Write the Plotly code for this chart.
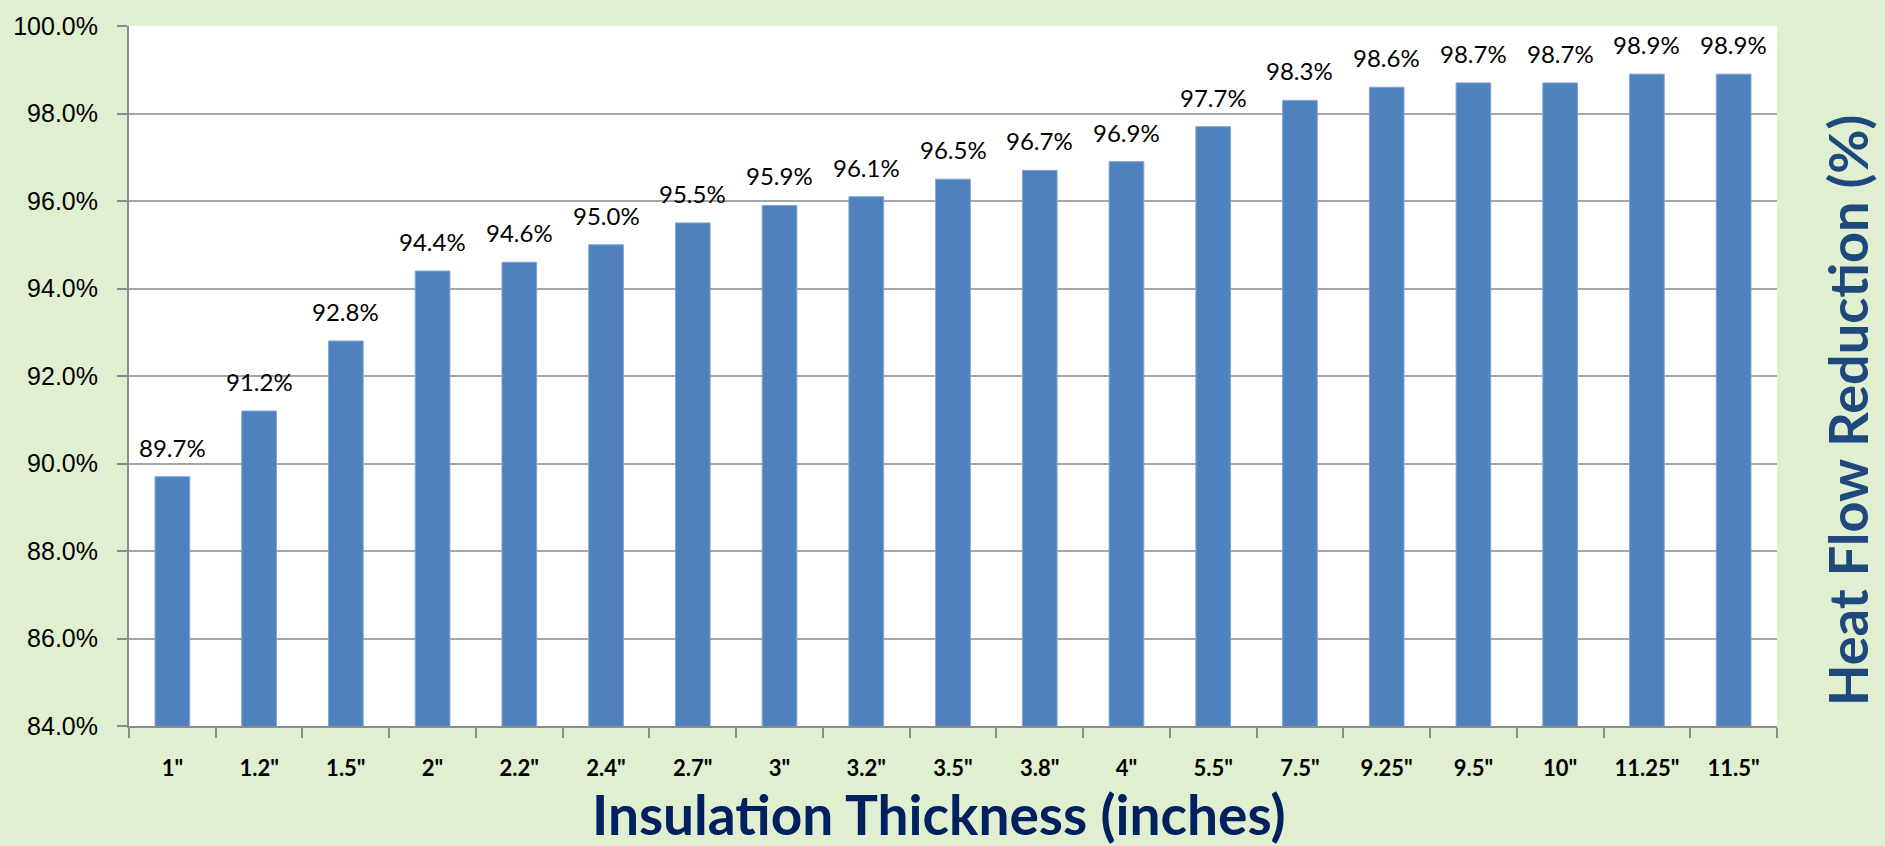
import plotly.graph_objects as go

# Insulation thickness categories and the heat flow reduction each one achieves
thickness_labels = ['1"', '1.2"', '1.5"', '2"', '2.2"', '2.4"', '2.7"', '3"', '3.2"', '3.5"',
                    '3.8"', '4"', '5.5"', '7.5"', '9.25"', '9.5"', '10"', '11.25"', '11.5"']
reduction_pct = [89.7, 91.2, 92.8, 94.4, 94.6, 95.0, 95.5, 95.9, 96.1, 96.5,
                 96.7, 96.9, 97.7, 98.3, 98.6, 98.7, 98.7, 98.9, 98.9]
y_ticks = [84, 86, 88, 90, 92, 94, 96, 98, 100]

BG = "#DFEFD0"
BAR = "#4F81BD"
AXIS = "#8C8C8C"

fig = go.Figure()
fig.add_trace(go.Bar(
    x=thickness_labels,
    y=reduction_pct,
    marker=dict(color=BAR, line=dict(color="#7FA6D6", width=1)),
    width=0.4,
    hoverinfo="x+y",
))

# value labels above each bar
for cat, val in zip(thickness_labels, reduction_pct):
    fig.add_annotation(
        x=cat, y=val, text=f"{val:.1f}%", showarrow=False,
        yanchor="bottom", yshift=13,
        font=dict(family="Lato", size=24, color="#000000"),
    )

# horizontal axis title below the category labels
fig.add_annotation(
    xref="paper", yref="paper", x=0.5, y=0, xshift=-14, yshift=-53,
    text="<b>Insulation Thickness (inches)</b>", showarrow=False,
    xanchor="center", yanchor="top",
    font=dict(family="Lato", size=55, color="#002060"),
)

# right-hand vertical axis title
fig.add_annotation(
    xref="paper", yref="paper", x=1.0, y=0.45, xshift=70,
    text="<b>Heat Flow Reduction (%)</b>", textangle=-90, showarrow=False,
    xanchor="center", yanchor="middle",
    font=dict(family="Lato", size=54, color="#1F497D"),
)

fig.update_layout(
    width=1885, height=846,
    paper_bgcolor=BG, plot_bgcolor="#FFFFFF",
    margin=dict(l=129, r=108, t=20, b=120),
    showlegend=False,
    bargap=0.6,
    xaxis=dict(
        type="category",
        showline=True, linecolor=AXIS, linewidth=2,
        mirror=False,
        showgrid=False,
        ticks="outside", ticklen=10, tickwidth=2, tickcolor=AXIS,
        tickson="boundaries",
        ticklabelstandoff=22,
        tickfont=dict(family="Lato", size=22, color="#000000", weight="bold"),
    ),
    yaxis=dict(
        range=[84, 100],
        tickvals=y_ticks,
        ticktext=[f"{v:.1f}%" for v in y_ticks],
        showline=True, linecolor=AXIS, linewidth=2,
        showgrid=True, gridcolor="#A6A6A6", gridwidth=1.5,
        ticks="outside", ticklen=10, tickwidth=2, tickcolor=AXIS,
        ticklabelstandoff=14,
        tickfont=dict(family="Liberation Sans", size=25, color="#000000"),
        zeroline=False,
    ),
)

fig.write_html("out.html")
